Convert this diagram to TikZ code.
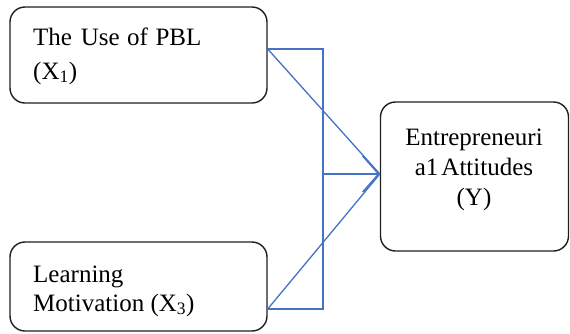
\documentclass[tikz,border=0pt]{standalone}
\usepackage{fontspec}
\setmainfont{Liberation Serif}
\usetikzlibrary{arrows.meta}
\definecolor{wordblue}{RGB}{68,114,196}
\definecolor{boxline}{RGB}{30,30,30}
\tikzset{
  box/.style={draw=boxline, line width=1.4pt, rounded corners=15pt, inner sep=0pt},
  txt/.style={anchor=base west, inner sep=0pt, font=\fontsize{25}{30}\selectfont},
  ctxt/.style={anchor=base, inner sep=0pt, font=\fontsize{25}{30}\selectfont},
  link/.style={draw=wordblue, line width=1.3pt},
}
\begin{document}
\begin{tikzpicture}[x=1pt,y=-1pt]
\useasboundingbox (0,0) rectangle (570,333);
\node[box, minimum width=257pt, minimum height=96pt] (x1) at (138.5,55) {};
\node[box, minimum width=257pt, minimum height=89pt] (x3) at (138.5,286.5) {};
\node[box, minimum width=188pt, minimum height=149pt] (y) at (474.5,176.5) {};
\node[txt] (t1a) at (33,45) {The\hspace{0.35em}Use\hspace{0.3em}of\hspace{0.3em}PBL};
\node[txt] (t1b) at (33,79) {(X\textsubscript{1})};
\node[txt] (t3a) at (33,282) {Learning};
\node[txt] (t3b) at (33,311) {Motivation (X\textsubscript{3})};
\node[ctxt] (tya) at (474,145) {Entrepreneuri};
\node[ctxt] (tyb) at (474,175) {a1\hspace{0.12em}Attitudes};
\node[ctxt] (tyc) at (474,205) {(Y)};
\coordinate (p1) at (x1.east |- 0,49);
\coordinate (p3) at (x3.east |- 0,309);
\coordinate (tip) at (y.west |- 0,174);
\coordinate (j1) at (323,49);
\coordinate (j3) at (323,309);
\coordinate (jm) at (323,174);
\draw[link] (p1) -- (j1) -- (j3) -- (p3);
\draw[link] (p1) -- (tip);
\draw[link] (p3) -- (tip);
\draw[link, -{Straight Barb[length=16pt,width=36pt,line width=1.6pt]}] (jm) -- (tip);
\end{tikzpicture}
\end{document}
